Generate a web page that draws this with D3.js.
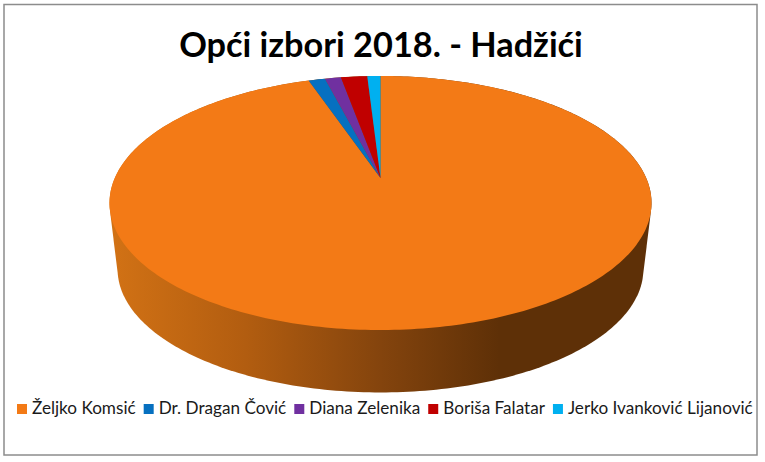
<!DOCTYPE html>
<html>
<head>
<meta charset="utf-8">
<script src="https://cdn.jsdelivr.net/npm/d3@7"></script>
<style>
html, body { margin: 0; padding: 0; background: #fff; }
svg { display: block; font-family: Lato, "Open Sans", sans-serif; }
</style>
</head>
<body>
<div id="grafico"></div>
<script>
// Podaci procijenjeni sa slike (%)
const kandidati = ["Željko Komsić", "Dr. Dragan Čović", "Diana Zelenika", "Boriša Falatar", "Jerko Ivanković Lijanović"];
const glasovi = [94.8, 1.2, 1.15, 1.9, 0.95];
const boje = ["#f37a16", "#0670c0", "#7030a0", "#c00000", "#00b0f0"];
const naslov = "Opći izbori 2018. - Hadžići";

const width = 765, height = 462;

const svg = d3.select("#grafico").append("svg")
    .attr("width", width)
    .attr("height", height);

// Okvir
svg.append("rect")
    .attr("x", 4)
    .attr("y", 4.5)
    .attr("width", 753)
    .attr("height", 450.5)
    .attr("fill", "#fff")
    .attr("stroke", "#8c8c8c")
    .attr("stroke-width", 1.5);

// Naslov
svg.append("text")
    .attr("x", 381)
    .attr("y", 57)
    .attr("text-anchor", "middle")
    .attr("font-size", 34.3)
    .attr("font-weight", 700)
    .attr("fill", "#000")
    .text(naslov);

// Perspektiva: krug -> elipsa, centar kruga nije u centru elipse
const cx = 380.5, cy = 178;
const k = 0.1969, a = 122.1, b = 265.7;
const dubina = 67, skala = 0.97;

function projekcija(ugao, r, z) {
    const u = r * Math.sin(ugao);
    const v = -r * Math.cos(ugao);
    const w = 1 - k * v;
    const s = z ? skala : 1;
    return [cx + s * b * u / w, cy + (z ? dubina : 0) + s * a * v / w];
}

// Gradijent bocne strane
const defs = svg.append("defs");
const grad = defs.append("linearGradient")
    .attr("id", "bok")
    .attr("gradientUnits", "userSpaceOnUse")
    .attr("x1", 110).attr("x2", 651)
    .attr("y1", 0).attr("y2", 0);
[[0, "#d27215"], [0.25, "#b25d10"], [0.5, "#84440d"], [0.72, "#5e3007"], [1, "#5e3007"]]
    .forEach(s => grad.append("stop").attr("offset", s[0]).attr("stop-color", s[1]));

// Bocna strana: omotac gornje i donje elipse
const uglovi = d3.range(0, 2 * Math.PI, Math.PI / 180);
const omotac = d3.polygonHull(
    uglovi.map(t => projekcija(t, 1, false)).concat(uglovi.map(t => projekcija(t, 1, true)))
);
svg.append("path")
    .attr("d", d3.line().curve(d3.curveLinearClosed)(omotac))
    .attr("fill", "url(#bok)");

// Kriske
const pie = d3.pie().sort(null)(glasovi);
const kriska = d => {
    const n = Math.max(2, Math.ceil((d.endAngle - d.startAngle) * 180 / Math.PI));
    const tacke = d3.range(n + 1).map(i =>
        projekcija(d.startAngle + (d.endAngle - d.startAngle) * i / n, 1, false));
    return d3.line().curve(d3.curveLinearClosed)([[cx, cy]].concat(tacke));
};
svg.selectAll(".kriska")
    .data(pie)
    .enter()
    .append("path")
    .attr("class", "kriska")
    .attr("d", kriska)
    .attr("fill", (d, i) => boje[i]);

// Legenda
const legenda = svg.append("g");
let x = 17;
kandidati.forEach((ime, i) => {
    legenda.append("rect")
        .attr("x", x)
        .attr("y", 404)
        .attr("width", 10)
        .attr("height", 10)
        .attr("fill", boje[i]);
    const t = legenda.append("text")
        .attr("x", x + 15)
        .attr("y", 414)
        .attr("font-size", 17.15)
        .attr("fill", "#1a1a1a")
        .text(ime);
    x += 15 + t.node().getComputedTextLength() + 8;
});
</script>
</body>
</html>
